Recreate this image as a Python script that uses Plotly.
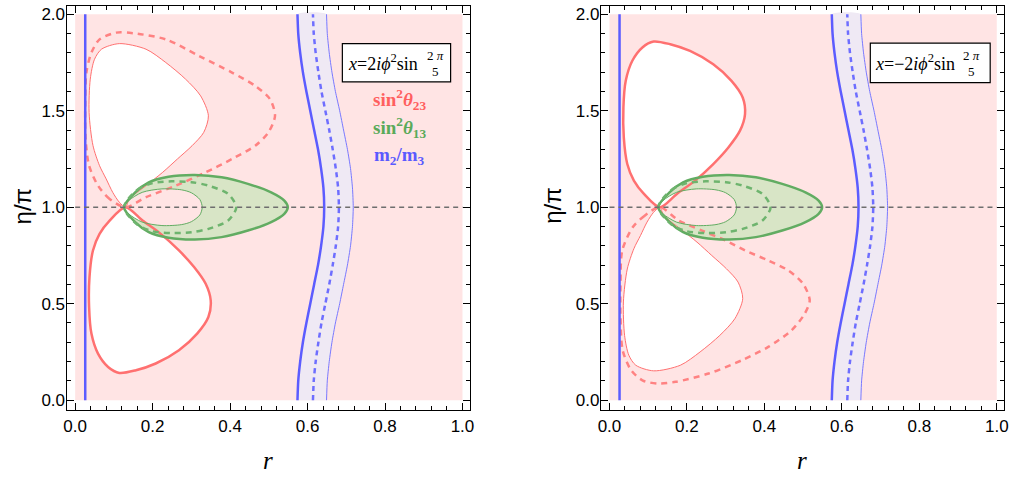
import plotly.graph_objects as go

# ---------------- data ----------------
# left panel: x = 2 i phi^2 sin(2pi/5)
L_thin_lobe_x = [0.130, 0.114, 0.097, 0.080, 0.063, 0.046, 0.036, 0.039, 0.050, 0.068, 0.114, 0.183, 0.234, 0.285, 0.324, 0.344, 0.332, 0.302, 0.264, 0.226, 0.183, 0.140, 0.130]
L_thin_lobe_y = [1.000, 1.026, 1.077, 1.147, 1.215, 1.320, 1.491, 1.664, 1.767, 1.819, 1.848, 1.819, 1.750, 1.664, 1.577, 1.474, 1.388, 1.319, 1.250, 1.181, 1.112, 1.043, 1.000]
L_thick_lobe_x = [0.130, 0.174, 0.221, 0.268, 0.307, 0.337, 0.350, 0.344, 0.315, 0.268, 0.208, 0.157, 0.114, 0.085, 0.059, 0.042, 0.036, 0.037, 0.046, 0.063, 0.089, 0.130]
L_thick_lobe_y = [1.000, 0.931, 0.862, 0.776, 0.690, 0.603, 0.517, 0.431, 0.345, 0.259, 0.190, 0.155, 0.141, 0.172, 0.241, 0.345, 0.483, 0.638, 0.776, 0.862, 0.931, 1.000]
L_dash_x = [0.130, 0.089, 0.059, 0.036, 0.027, 0.026, 0.029, 0.042, 0.063, 0.106, 0.149, 0.234, 0.320, 0.405, 0.465, 0.503, 0.516, 0.499, 0.465, 0.405, 0.337, 0.260, 0.183, 0.130]
L_dash_y = [1.000, 1.043, 1.112, 1.215, 1.353, 1.526, 1.698, 1.801, 1.870, 1.905, 1.902, 1.870, 1.784, 1.698, 1.629, 1.560, 1.474, 1.388, 1.319, 1.250, 1.181, 1.112, 1.052, 1.000]

# right panel: x = -2 i phi^2 sin(2pi/5)
R_thick_lobe_x = [0.130, 0.174, 0.221, 0.268, 0.307, 0.337, 0.350, 0.344, 0.315, 0.268, 0.208, 0.157, 0.114, 0.085, 0.059, 0.042, 0.036, 0.037, 0.046, 0.063, 0.089, 0.130]
R_thick_lobe_y = [1.000, 1.069, 1.138, 1.224, 1.310, 1.397, 1.483, 1.569, 1.655, 1.741, 1.810, 1.845, 1.859, 1.828, 1.759, 1.655, 1.517, 1.362, 1.224, 1.138, 1.069, 1.000]
R_thin_lobe_x = [0.130, 0.114, 0.097, 0.080, 0.063, 0.046, 0.036, 0.039, 0.050, 0.068, 0.114, 0.183, 0.234, 0.285, 0.324, 0.344, 0.332, 0.302, 0.264, 0.226, 0.183, 0.140, 0.130]
R_thin_lobe_y = [1.000, 0.974, 0.923, 0.853, 0.785, 0.680, 0.509, 0.336, 0.233, 0.181, 0.152, 0.181, 0.250, 0.336, 0.423, 0.526, 0.612, 0.681, 0.750, 0.819, 0.888, 0.957, 1.000]
R_dash_x = [0.130, 0.090, 0.060, 0.033, 0.0285, 0.0285, 0.034, 0.056, 0.085, 0.124, 0.171, 0.256, 0.342, 0.410, 0.470, 0.504, 0.517, 0.500, 0.462, 0.410, 0.350, 0.299, 0.239, 0.179, 0.130]
R_dash_y = [1.000, 0.955, 0.896, 0.776, 0.603, 0.431, 0.259, 0.155, 0.103, 0.086, 0.095, 0.138, 0.207, 0.276, 0.362, 0.448, 0.517, 0.603, 0.672, 0.724, 0.776, 0.828, 0.879, 0.931, 1.000]

# sin^2 theta_13 (same in both panels)
G_out_x = [0.126, 0.155, 0.190, 0.241, 0.309, 0.378, 0.446, 0.506, 0.540, 0.549, 0.540, 0.506, 0.446, 0.378, 0.309, 0.241, 0.190, 0.155, 0.126]
G_out_y = [1.000, 1.077, 1.129, 1.158, 1.167, 1.155, 1.121, 1.077, 1.034, 1.000, 0.966, 0.923, 0.879, 0.845, 0.833, 0.842, 0.871, 0.923, 1.000]
G_in_x = [0.126, 0.138, 0.173, 0.224, 0.275, 0.300, 0.322, 0.328, 0.322, 0.300, 0.275, 0.224, 0.173, 0.138, 0.126]
G_in_y = [1.000, 1.034, 1.077, 1.095, 1.090, 1.075, 1.040, 1.000, 0.960, 0.925, 0.910, 0.905, 0.923, 0.966, 1.000]
G_dash_x = [0.126, 0.160, 0.200, 0.249, 0.300, 0.344, 0.395, 0.416, 0.395, 0.344, 0.300, 0.249, 0.200, 0.160, 0.126]
G_dash_y = [1.000, 1.090, 1.125, 1.134, 1.130, 1.112, 1.069, 1.000, 0.931, 0.888, 0.870, 0.866, 0.875, 0.910, 1.000]

# m2/m3 band (same in both panels)
B_y = [0.0, 0.1, 0.2, 0.3, 0.4, 0.5, 0.6, 0.7, 0.8, 0.9, 1.0, 1.1, 1.2, 1.3, 1.4, 1.5, 1.6, 1.7, 1.8, 1.9, 2.0]
B_left = [0.574, 0.576, 0.581, 0.588, 0.597, 0.607, 0.617, 0.627, 0.635, 0.641, 0.643, 0.641, 0.635, 0.627, 0.617, 0.607, 0.597, 0.588, 0.581, 0.576, 0.574]
B_mid = [0.614, 0.616, 0.621, 0.628, 0.636, 0.646, 0.656, 0.665, 0.673, 0.679, 0.681, 0.679, 0.673, 0.665, 0.656, 0.646, 0.636, 0.628, 0.621, 0.616, 0.614]
B_right = [0.649, 0.651, 0.656, 0.663, 0.672, 0.683, 0.693, 0.703, 0.711, 0.716, 0.718, 0.716, 0.711, 0.703, 0.693, 0.683, 0.672, 0.663, 0.656, 0.651, 0.649]
B_vert_x = [0.026, 0.026]
B_vert_y = [0.0, 2.0]

H_x = [0.0, 1.0]
H_y = [1.0, 1.0]

x_ticks = [0.0, 0.2, 0.4, 0.6, 0.8, 1.0]
y_ticks = [0.0, 0.5, 1.0, 1.5, 2.0]

# ---------------- styles ----------------
W, H = 1022, 477
PINK = "rgb(255,228,228)"
LAV = "rgb(239,233,244)"
GFILL = "rgb(216,229,198)"
RED = "rgb(255,112,112)"
GREEN = "rgb(98,172,98)"
BLUE = "rgb(92,92,255)"
GRAY = "rgb(110,110,110)"

fig = go.Figure()


def tr(xs, ys, panel, **kw):
    ax = "" if panel == 1 else "2"
    fig.add_trace(go.Scatter(x=xs, y=ys, xaxis="x" + ax, yaxis="y" + ax, mode="lines",
                             showlegend=False, hoverinfo="skip", **kw))


panels = {
    1: dict(thin=(L_thin_lobe_x, L_thin_lobe_y), thick=(L_thick_lobe_x, L_thick_lobe_y), dash=(L_dash_x, L_dash_y)),
    2: dict(thin=(R_thin_lobe_x, R_thin_lobe_y), thick=(R_thick_lobe_x, R_thick_lobe_y), dash=(R_dash_x, R_dash_y)),
}

for p, d in panels.items():
    # white holes (excluded sin^2 theta23)
    for key in ("thin", "thick"):
        xs, ys = d[key]
        tr(xs, ys, p, fill="toself", fillcolor="white", line=dict(width=0, shape="spline", smoothing=0.8))
    # m2/m3 band
    tr(B_left + B_right[::-1], B_y + B_y[::-1], p, fill="toself", fillcolor=LAV,
       line=dict(width=0, shape="spline", smoothing=0.6))
    # sin^2 theta13 ring
    tr(G_out_x + [None] + G_in_x[::-1], G_out_y + [None] + G_in_y[::-1], p, fill="toself",
       fillcolor=GFILL, line=dict(width=0, shape="spline", smoothing=0.8))
    # lines
    tr(*d["thin"], p, line=dict(color=RED, width=1, shape="spline", smoothing=0.8))
    tr(*d["thick"], p, line=dict(color=RED, width=2.5, shape="spline", smoothing=0.8))
    tr(*d["dash"], p, line=dict(color="rgb(255,130,130)", width=2.5, dash="6px,5px", shape="spline", smoothing=0.8))
    tr(G_in_x, G_in_y, p, line=dict(color=GREEN, width=1, shape="spline", smoothing=0.8))
    tr(G_out_x, G_out_y, p, line=dict(color=GREEN, width=2.5, shape="spline", smoothing=0.8))
    tr(G_dash_x, G_dash_y, p, line=dict(color="rgb(110,180,110)", width=2.5, dash="6px,5px", shape="spline", smoothing=0.8))
    tr(B_right, B_y, p, line=dict(color="rgb(120,120,255)", width=1, shape="spline", smoothing=0.6))
    tr(B_left, B_y, p, line=dict(color=BLUE, width=2.5, shape="spline", smoothing=0.6))
    tr(B_mid, B_y, p, line=dict(color="rgb(110,110,255)", width=2.5, dash="5px,4px", shape="spline", smoothing=0.6))
    tr(B_vert_x, B_vert_y, p, line=dict(color=BLUE, width=2.5))
    tr(H_x, H_y, p, line=dict(color=GRAY, width=1.5, dash="5px,4px"))

# ---------------- axes ----------------
def px2paper_x(px):
    return px / W


def px2paper_y(py):
    return 1 - py / H


XR = [-0.0222, 1.0189]
YR = [-0.0517, 2.043]
tickfont = dict(family="Liberation Sans, Arial", size=17, color="black")
common_x = dict(range=XR, tickvals=x_ticks, tickformat=".1f", ticks="inside", ticklen=7, tickwidth=1,
                tickcolor="black", showline=True, linecolor="black", linewidth=1.2, mirror="ticks",
                showgrid=False, zeroline=False, tickfont=tickfont, ticklabelstandoff=0,
                minor=dict(ticks="inside", dtick=0.04, tick0=0, ticklen=4, tickcolor="black", tickwidth=1))
common_y = dict(range=YR, tickvals=y_ticks, tickformat=".1f", ticks="inside", ticklen=7, tickwidth=1,
                tickcolor="black", showline=True, linecolor="black", linewidth=1.2, mirror="ticks",
                showgrid=False, zeroline=False, tickfont=tickfont, ticklabelstandoff=-3,
                minor=dict(ticks="inside", dtick=0.1, tick0=0, ticklen=4, tickcolor="black", tickwidth=1))

y_dom = [px2paper_y(410), px2paper_y(5)]
fig.update_layout(
    width=W, height=H, autosize=False, margin=dict(l=0, r=0, t=0, b=0),
    paper_bgcolor="white", plot_bgcolor="white",
    xaxis=dict(domain=[px2paper_x(64), px2paper_x(470)], anchor="y", **common_x),
    yaxis=dict(domain=y_dom, anchor="x", **common_y),
    xaxis2=dict(domain=[px2paper_x(602), px2paper_x(1008)], anchor="y2", **common_x),
    yaxis2=dict(domain=y_dom, anchor="x2", **common_y),
)

# pink allowed region background
for ax in ("", "2"):
    fig.add_shape(type="rect", xref="x" + ax, yref="y" + ax, x0=0, x1=1, y0=0, y1=2,
                  fillcolor=PINK, line=dict(width=0), layer="below")

# ---------------- text ----------------
ann = []


def text(px, py, s, size, color="black", family="Liberation Serif, Times New Roman", xanchor="center", angle=0):
    ann.append(dict(x=px2paper_x(px), y=px2paper_y(py), xref="paper", yref="paper", text=s,
                    showarrow=False, xanchor=xanchor, yanchor="middle", textangle=angle,
                    font=dict(family=family, size=size, color=color)))


# axis titles
for cx in (20, 553):
    text(cx, 205, "η/π", 24, family="Liberation Sans, Arial", angle=-90)
for cx in (267, 805):
    text(cx, 460, "<i>r</i>", 25)

# formula boxes
boxes = [((341.7, 42.7, 450.7, 81.0), 345.5, 435.0, "<i>x</i>=2<i>iϕ</i><sup>2</sup>sin"),
         ((873.3, 42.3, 994.0, 81.7), 875.5, 975.0, "<i>x</i>=−2<i>iϕ</i><sup>2</sup>sin")]
for (x0, y0, x1, y1), tx, fx, s in boxes:
    fig.add_shape(type="rect", xref="paper", yref="paper", x0=px2paper_x(x0), x1=px2paper_x(x1),
                  y0=px2paper_y(y1), y1=px2paper_y(y0), line=dict(color="black", width=1.2),
                  fillcolor="white", layer="above")
    text(tx, 62, s, 18, xanchor="left")
    text(fx, 55, "2 <i>π</i>", 13)
    text(fx, 71, "5", 13)

# legend labels
text(399, 99, "<b>sin<sup>2</sup><i>θ</i><sub>23</sub></b>", 19, color="rgb(255,95,95)")
text(399, 127, "<b>sin<sup>2</sup><i>θ</i><sub>13</sub></b>", 19, color="rgb(90,170,90)")
text(399, 155, "<b>m<sub>2</sub>/m<sub>3</sub></b>", 19, color="rgb(90,90,255)")

fig.update_layout(annotations=ann)
fig.write_html("out.html", config={"displayModeBar": False},
               post_script="document.body.style.margin='0';document.body.style.overflow='hidden';")
